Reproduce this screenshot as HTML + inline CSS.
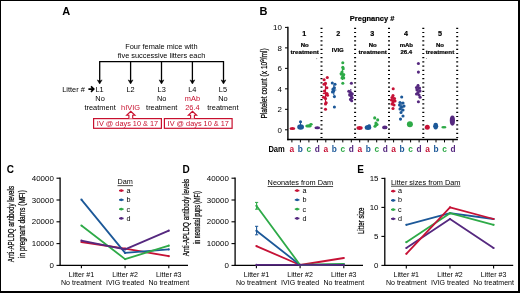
<!DOCTYPE html>
<html><head><meta charset="utf-8"><style>
html,body{margin:0;padding:0;background:#fff;}
body{width:520px;height:293px;overflow:hidden;position:relative;}
svg{position:absolute;left:0;top:0;font-family:"Liberation Sans",sans-serif;will-change:transform;}
.frame{position:absolute;left:0;top:0;width:517px;height:290px;border-style:solid;border-color:#000;border-width:1px 2px 2px 1px;}
</style></head><body>
<svg width="520" height="293" viewBox="0 0 520 293">
<text x="62.3" y="15.3" font-size="11" text-anchor="start" font-weight="bold" fill="#000" >A</text>
<text x="161.4" y="48.8" font-size="7.4" text-anchor="middle" font-weight="normal" fill="#000" >Four female mice with</text>
<text x="161.5" y="58.2" font-size="7.4" text-anchor="middle" font-weight="normal" fill="#000" >five successive litters each</text>
<line x1="99.1" y1="61.7" x2="224.1" y2="61.7" stroke="#000" stroke-width="1.3" />
<line x1="99.7" y1="61.7" x2="99.7" y2="81.5" stroke="#000" stroke-width="1.3" />
<path d="M97.30 79.9 L99.70 84.0 L102.10 79.9 L99.70 81.1 Z" fill="#000" stroke="#000" stroke-width="0.5" stroke-linejoin="round"/>
<line x1="130.6" y1="61.7" x2="130.6" y2="81.5" stroke="#000" stroke-width="1.3" />
<path d="M128.20 79.9 L130.60 84.0 L133.00 79.9 L130.60 81.1 Z" fill="#000" stroke="#000" stroke-width="0.5" stroke-linejoin="round"/>
<line x1="161.5" y1="61.7" x2="161.5" y2="81.5" stroke="#000" stroke-width="1.3" />
<path d="M159.10 79.9 L161.50 84.0 L163.90 79.9 L161.50 81.1 Z" fill="#000" stroke="#000" stroke-width="0.5" stroke-linejoin="round"/>
<line x1="192.4" y1="61.7" x2="192.4" y2="81.5" stroke="#000" stroke-width="1.3" />
<path d="M190.00 79.9 L192.40 84.0 L194.80 79.9 L192.40 81.1 Z" fill="#000" stroke="#000" stroke-width="0.5" stroke-linejoin="round"/>
<line x1="223.5" y1="61.7" x2="223.5" y2="81.5" stroke="#000" stroke-width="1.3" />
<path d="M221.10 79.9 L223.50 84.0 L225.90 79.9 L223.50 81.1 Z" fill="#000" stroke="#000" stroke-width="0.5" stroke-linejoin="round"/>
<text x="62.2" y="91.7" font-size="7.4" text-anchor="start" font-weight="normal" fill="#000" >Litter #</text>
<path d="M88.4 89.1 H93.2 M91.0 86.4 L93.8 89.1 L91.0 91.8" fill="none" stroke="#000" stroke-width="1.6"/>
<text x="99.6" y="92" font-size="7.4" text-anchor="middle" font-weight="normal" fill="#000" >L1</text>
<text x="130.6" y="92" font-size="7.4" text-anchor="middle" font-weight="normal" fill="#000" >L2</text>
<text x="161.7" y="92" font-size="7.4" text-anchor="middle" font-weight="normal" fill="#000" >L3</text>
<text x="192.3" y="92" font-size="7.4" text-anchor="middle" font-weight="normal" fill="#000" >L4</text>
<text x="222.9" y="92" font-size="7.4" text-anchor="middle" font-weight="normal" fill="#000" >L5</text>
<text x="100.1" y="101" font-size="7.4" text-anchor="middle" font-weight="normal" fill="#000" >No</text>
<text x="100.1" y="110.4" font-size="7.4" text-anchor="middle" font-weight="normal" fill="#000" >treatment</text>
<text x="161.7" y="101" font-size="7.4" text-anchor="middle" font-weight="normal" fill="#000" >No</text>
<text x="161.7" y="110.4" font-size="7.4" text-anchor="middle" font-weight="normal" fill="#000" >treatment</text>
<text x="222.9" y="101" font-size="7.4" text-anchor="middle" font-weight="normal" fill="#000" >No</text>
<text x="222.9" y="110.4" font-size="7.4" text-anchor="middle" font-weight="normal" fill="#000" >treatment</text>
<text x="130.5" y="110.4" font-size="7.4" text-anchor="middle" font-weight="normal" fill="#c8102e" >hIVIG</text>
<text x="192.4" y="100.8" font-size="7.4" text-anchor="middle" font-weight="normal" fill="#c8102e" >mAb</text>
<text x="192.4" y="110.4" font-size="7.4" text-anchor="middle" font-weight="normal" fill="#c8102e" >26.4</text>
<rect x="93.6" y="118.6" width="67.8" height="9.7" fill="none" stroke="#c8102e" stroke-width="1.2"/>
<text x="127.5" y="125.7" font-size="7.4" text-anchor="middle" font-weight="normal" fill="#c8102e" textLength="61.3" lengthAdjust="spacingAndGlyphs" >IV @ days 10 &amp; 17</text>
<path d="M128.9 118.6 V115.3 H126.60000000000001 L130.8 111.3 L135.0 115.3 H132.70000000000002 V118.6" fill="#fff" stroke="#c8102e" stroke-width="1.1"/>
<rect x="164.4" y="118.6" width="67.7" height="9.7" fill="none" stroke="#c8102e" stroke-width="1.2"/>
<text x="198.25" y="125.7" font-size="7.4" text-anchor="middle" font-weight="normal" fill="#c8102e" textLength="61.3" lengthAdjust="spacingAndGlyphs" >IV @ days 10 &amp; 17</text>
<path d="M190.6 118.6 V115.3 H188.3 L192.5 111.3 L196.7 115.3 H194.4 V118.6" fill="#fff" stroke="#c8102e" stroke-width="1.1"/>
<text x="259.5" y="14.9" font-size="11" text-anchor="start" font-weight="bold" fill="#000" >B</text>
<text x="349.8" y="20.6" font-size="7.7" text-anchor="start" font-weight="bold" fill="#000" textLength="44.6" lengthAdjust="spacingAndGlyphs" stroke="#000" stroke-width="0.2">Pregnancy #</text>
<line x1="287.9" y1="26.8" x2="287.9" y2="140.2" stroke="#000" stroke-width="1.4" />
<line x1="287.2" y1="139.5" x2="457.9" y2="139.5" stroke="#000" stroke-width="1.4" />
<line x1="285" y1="129.8" x2="287.9" y2="129.8" stroke="#000" stroke-width="1" />
<text transform="translate(281.9,132.5) scale(1.06,1)" font-size="7.5" text-anchor="end" font-weight="normal" fill="#000" >0</text>
<line x1="285" y1="109.32000000000001" x2="287.9" y2="109.32000000000001" stroke="#000" stroke-width="1" />
<text transform="translate(281.9,112.02000000000001) scale(1.06,1)" font-size="7.5" text-anchor="end" font-weight="normal" fill="#000" >2</text>
<line x1="285" y1="88.84" x2="287.9" y2="88.84" stroke="#000" stroke-width="1" />
<text transform="translate(281.9,91.54) scale(1.06,1)" font-size="7.5" text-anchor="end" font-weight="normal" fill="#000" >4</text>
<line x1="285" y1="68.36000000000001" x2="287.9" y2="68.36000000000001" stroke="#000" stroke-width="1" />
<text transform="translate(281.9,71.06000000000002) scale(1.06,1)" font-size="7.5" text-anchor="end" font-weight="normal" fill="#000" >6</text>
<line x1="285" y1="47.88000000000001" x2="287.9" y2="47.88000000000001" stroke="#000" stroke-width="1" />
<text transform="translate(281.9,50.58000000000001) scale(1.06,1)" font-size="7.5" text-anchor="end" font-weight="normal" fill="#000" >8</text>
<line x1="285" y1="27.400000000000006" x2="287.9" y2="27.400000000000006" stroke="#000" stroke-width="1" />
<text transform="translate(281.9,30.100000000000005) scale(1.06,1)" font-size="7.5" text-anchor="end" font-weight="normal" fill="#000" >10</text>
<text transform="translate(267.2,83.4) rotate(-90)" font-size="8.2" text-anchor="middle" font-weight="normal" textLength="70.3" lengthAdjust="spacingAndGlyphs" stroke="#000" stroke-width="0.22">Platelet count (x 10<tspan font-size="5.4" dy="-3.3">9</tspan><tspan dy="3.3">/ml)</tspan></text>
<line x1="321.5" y1="27.7" x2="321.5" y2="139" stroke="#000" stroke-width="2.0" stroke-dasharray="1.2 3.0"/>
<line x1="355.1" y1="27.7" x2="355.1" y2="139" stroke="#000" stroke-width="2.0" stroke-dasharray="1.2 3.0"/>
<line x1="389.0" y1="27.7" x2="389.0" y2="139" stroke="#000" stroke-width="2.0" stroke-dasharray="1.2 3.0"/>
<line x1="423.3" y1="27.7" x2="423.3" y2="139" stroke="#000" stroke-width="2.0" stroke-dasharray="1.2 3.0"/>
<line x1="457.2" y1="27.7" x2="457.2" y2="139" stroke="#000" stroke-width="2.0" stroke-dasharray="1.2 3.0"/>
<line x1="291.9" y1="139.5" x2="291.9" y2="142.4" stroke="#000" stroke-width="1" />
<text x="291.9" y="151.9" font-size="8.3" text-anchor="middle" font-weight="bold" fill="#c61236" >a</text>
<line x1="300.4" y1="139.5" x2="300.4" y2="142.4" stroke="#000" stroke-width="1" />
<text x="300.4" y="151.9" font-size="8.3" text-anchor="middle" font-weight="bold" fill="#1c5898" >b</text>
<line x1="308.9" y1="139.5" x2="308.9" y2="142.4" stroke="#000" stroke-width="1" />
<text x="308.9" y="151.9" font-size="8.3" text-anchor="middle" font-weight="bold" fill="#2eaa48" >c</text>
<line x1="317.4" y1="139.5" x2="317.4" y2="142.4" stroke="#000" stroke-width="1" />
<text x="317.4" y="151.9" font-size="8.3" text-anchor="middle" font-weight="bold" fill="#55287f" >d</text>
<line x1="325.79999999999995" y1="139.5" x2="325.79999999999995" y2="142.4" stroke="#000" stroke-width="1" />
<text x="325.79999999999995" y="151.9" font-size="8.3" text-anchor="middle" font-weight="bold" fill="#c61236" >a</text>
<line x1="334.29999999999995" y1="139.5" x2="334.29999999999995" y2="142.4" stroke="#000" stroke-width="1" />
<text x="334.29999999999995" y="151.9" font-size="8.3" text-anchor="middle" font-weight="bold" fill="#1c5898" >b</text>
<line x1="342.79999999999995" y1="139.5" x2="342.79999999999995" y2="142.4" stroke="#000" stroke-width="1" />
<text x="342.79999999999995" y="151.9" font-size="8.3" text-anchor="middle" font-weight="bold" fill="#2eaa48" >c</text>
<line x1="351.29999999999995" y1="139.5" x2="351.29999999999995" y2="142.4" stroke="#000" stroke-width="1" />
<text x="351.29999999999995" y="151.9" font-size="8.3" text-anchor="middle" font-weight="bold" fill="#55287f" >d</text>
<line x1="359.7" y1="139.5" x2="359.7" y2="142.4" stroke="#000" stroke-width="1" />
<text x="359.7" y="151.9" font-size="8.3" text-anchor="middle" font-weight="bold" fill="#c61236" >a</text>
<line x1="368.2" y1="139.5" x2="368.2" y2="142.4" stroke="#000" stroke-width="1" />
<text x="368.2" y="151.9" font-size="8.3" text-anchor="middle" font-weight="bold" fill="#1c5898" >b</text>
<line x1="376.7" y1="139.5" x2="376.7" y2="142.4" stroke="#000" stroke-width="1" />
<text x="376.7" y="151.9" font-size="8.3" text-anchor="middle" font-weight="bold" fill="#2eaa48" >c</text>
<line x1="385.2" y1="139.5" x2="385.2" y2="142.4" stroke="#000" stroke-width="1" />
<text x="385.2" y="151.9" font-size="8.3" text-anchor="middle" font-weight="bold" fill="#55287f" >d</text>
<line x1="393.59999999999997" y1="139.5" x2="393.59999999999997" y2="142.4" stroke="#000" stroke-width="1" />
<text x="393.59999999999997" y="151.9" font-size="8.3" text-anchor="middle" font-weight="bold" fill="#c61236" >a</text>
<line x1="402.09999999999997" y1="139.5" x2="402.09999999999997" y2="142.4" stroke="#000" stroke-width="1" />
<text x="402.09999999999997" y="151.9" font-size="8.3" text-anchor="middle" font-weight="bold" fill="#1c5898" >b</text>
<line x1="410.59999999999997" y1="139.5" x2="410.59999999999997" y2="142.4" stroke="#000" stroke-width="1" />
<text x="410.59999999999997" y="151.9" font-size="8.3" text-anchor="middle" font-weight="bold" fill="#2eaa48" >c</text>
<line x1="419.09999999999997" y1="139.5" x2="419.09999999999997" y2="142.4" stroke="#000" stroke-width="1" />
<text x="419.09999999999997" y="151.9" font-size="8.3" text-anchor="middle" font-weight="bold" fill="#55287f" >d</text>
<line x1="427.5" y1="139.5" x2="427.5" y2="142.4" stroke="#000" stroke-width="1" />
<text x="427.5" y="151.9" font-size="8.3" text-anchor="middle" font-weight="bold" fill="#c61236" >a</text>
<line x1="436.0" y1="139.5" x2="436.0" y2="142.4" stroke="#000" stroke-width="1" />
<text x="436.0" y="151.9" font-size="8.3" text-anchor="middle" font-weight="bold" fill="#1c5898" >b</text>
<line x1="444.5" y1="139.5" x2="444.5" y2="142.4" stroke="#000" stroke-width="1" />
<text x="444.5" y="151.9" font-size="8.3" text-anchor="middle" font-weight="bold" fill="#2eaa48" >c</text>
<line x1="453.0" y1="139.5" x2="453.0" y2="142.4" stroke="#000" stroke-width="1" />
<text x="453.0" y="151.9" font-size="8.3" text-anchor="middle" font-weight="bold" fill="#55287f" >d</text>
<text x="268.4" y="151.9" font-size="8.2" text-anchor="start" font-weight="bold" fill="#000" textLength="16.4" lengthAdjust="spacingAndGlyphs" >Dam</text>
<text x="304.3" y="35.8" font-size="7.2" text-anchor="middle" font-weight="bold" fill="#000" stroke="#000" stroke-width="0.2">1</text>
<text x="338.2" y="35.8" font-size="7.2" text-anchor="middle" font-weight="bold" fill="#000" stroke="#000" stroke-width="0.2">2</text>
<text x="372.2" y="35.8" font-size="7.2" text-anchor="middle" font-weight="bold" fill="#000" stroke="#000" stroke-width="0.2">3</text>
<text x="406.1" y="35.8" font-size="7.2" text-anchor="middle" font-weight="bold" fill="#000" stroke="#000" stroke-width="0.2">4</text>
<text x="440.0" y="35.8" font-size="7.2" text-anchor="middle" font-weight="bold" fill="#000" stroke="#000" stroke-width="0.2">5</text>
<text x="304.7" y="46.6" font-size="6.0" text-anchor="middle" font-weight="bold" fill="#000" stroke="#000" stroke-width="0.2">No</text>
<text x="304.7" y="54.0" font-size="6.0" text-anchor="middle" font-weight="bold" fill="#000" textLength="28.5" lengthAdjust="spacingAndGlyphs" stroke="#000" stroke-width="0.2">treatment</text>
<text x="372.7" y="46.6" font-size="6.0" text-anchor="middle" font-weight="bold" fill="#000" stroke="#000" stroke-width="0.2">No</text>
<text x="372.7" y="54.0" font-size="6.0" text-anchor="middle" font-weight="bold" fill="#000" textLength="28.5" lengthAdjust="spacingAndGlyphs" stroke="#000" stroke-width="0.2">treatment</text>
<text x="440.0" y="46.6" font-size="6.0" text-anchor="middle" font-weight="bold" fill="#000" stroke="#000" stroke-width="0.2">No</text>
<text x="440.0" y="54.0" font-size="6.0" text-anchor="middle" font-weight="bold" fill="#000" textLength="28.5" lengthAdjust="spacingAndGlyphs" stroke="#000" stroke-width="0.2">treatment</text>
<text x="337.8" y="51.5" font-size="6.0" text-anchor="middle" font-weight="bold" fill="#000" stroke="#000" stroke-width="0.2">IVIG</text>
<text x="406.3" y="46.6" font-size="6.0" text-anchor="middle" font-weight="bold" fill="#000" stroke="#000" stroke-width="0.2">mAb</text>
<text x="406.3" y="54.0" font-size="6.0" text-anchor="middle" font-weight="bold" fill="#000" stroke="#000" stroke-width="0.2">26.4</text>
<circle cx="316.70" cy="58.60" r="0.55" fill="#888"/>
<circle cx="426.40" cy="58.50" r="0.55" fill="#888"/>
<circle cx="300.50" cy="121.80" r="1.55" fill="#1c5898"/>
<ellipse cx="292.4" cy="128.4" rx="2.9" ry="1.5" fill="#c61236"/>
<ellipse cx="300.6" cy="127.0" rx="3.4" ry="2.8000000000000003" fill="#1c5898"/>
<line x1="300.5" y1="122.5" x2="300.5" y2="129" stroke="#1c5898" stroke-width="1" />
<ellipse cx="308.5" cy="125.9" rx="3.2" ry="1.7000000000000002" fill="#2eaa48"/>
<ellipse cx="311.0" cy="124.2" rx="1.7000000000000002" ry="1.2999999999999998" fill="#2eaa48"/>
<ellipse cx="317.3" cy="127.7" rx="2.9" ry="1.5" fill="#55287f"/>
<circle cx="327.30" cy="77.50" r="1.55" fill="#c61236"/>
<circle cx="324.10" cy="79.80" r="1.55" fill="#c61236"/>
<circle cx="325.50" cy="83.40" r="1.55" fill="#c61236"/>
<circle cx="324.10" cy="84.30" r="1.55" fill="#c61236"/>
<circle cx="326.90" cy="87.70" r="1.55" fill="#c61236"/>
<circle cx="324.50" cy="91.10" r="1.55" fill="#c61236"/>
<circle cx="326.90" cy="93.50" r="1.55" fill="#c61236"/>
<circle cx="327.50" cy="95.20" r="1.55" fill="#c61236"/>
<circle cx="323.50" cy="97.30" r="1.55" fill="#c61236"/>
<circle cx="325.50" cy="98.60" r="1.55" fill="#c61236"/>
<circle cx="326.20" cy="102.70" r="1.55" fill="#c61236"/>
<circle cx="325.50" cy="103.90" r="1.55" fill="#c61236"/>
<circle cx="325.50" cy="109.30" r="1.55" fill="#c61236"/>
<line x1="325.5" y1="82.3" x2="325.5" y2="104" stroke="#c61236" stroke-width="1.2" />
<line x1="322.8" y1="93.5" x2="328.3" y2="93.5" stroke="#c61236" stroke-width="1.2" />
<circle cx="332.30" cy="83.00" r="1.55" fill="#1c5898"/>
<circle cx="335.00" cy="84.30" r="1.55" fill="#1c5898"/>
<circle cx="333.00" cy="89.10" r="1.55" fill="#1c5898"/>
<circle cx="334.40" cy="87.70" r="1.55" fill="#1c5898"/>
<circle cx="333.70" cy="91.10" r="1.55" fill="#1c5898"/>
<circle cx="332.50" cy="92.00" r="1.55" fill="#1c5898"/>
<circle cx="334.40" cy="96.60" r="1.55" fill="#1c5898"/>
<circle cx="334.40" cy="107.00" r="1.55" fill="#1c5898"/>
<line x1="333.8" y1="85" x2="333.8" y2="95" stroke="#1c5898" stroke-width="1.1" />
<line x1="331.5" y1="90" x2="336.3" y2="90" stroke="#1c5898" stroke-width="1.1" />
<circle cx="342.80" cy="62.70" r="1.55" fill="#2eaa48"/>
<circle cx="342.80" cy="67.30" r="1.55" fill="#2eaa48"/>
<circle cx="343.20" cy="68.70" r="1.55" fill="#2eaa48"/>
<circle cx="342.00" cy="72.00" r="1.55" fill="#2eaa48"/>
<circle cx="341.10" cy="73.80" r="1.55" fill="#2eaa48"/>
<circle cx="343.70" cy="74.60" r="1.55" fill="#2eaa48"/>
<circle cx="342.80" cy="76.30" r="1.55" fill="#2eaa48"/>
<circle cx="342.00" cy="78.00" r="1.55" fill="#2eaa48"/>
<circle cx="343.70" cy="78.00" r="1.55" fill="#2eaa48"/>
<circle cx="342.80" cy="83.20" r="1.55" fill="#2eaa48"/>
<line x1="342.5" y1="69" x2="342.5" y2="80" stroke="#2eaa48" stroke-width="1.1" />
<line x1="340.3" y1="75" x2="345" y2="75" stroke="#2eaa48" stroke-width="1.1" />
<circle cx="351.40" cy="83.20" r="1.55" fill="#55287f"/>
<circle cx="348.80" cy="91.20" r="1.55" fill="#55287f"/>
<circle cx="350.50" cy="92.50" r="1.55" fill="#55287f"/>
<circle cx="352.20" cy="93.90" r="1.55" fill="#55287f"/>
<circle cx="349.70" cy="95.10" r="1.55" fill="#55287f"/>
<circle cx="351.40" cy="96.00" r="1.55" fill="#55287f"/>
<circle cx="352.20" cy="97.70" r="1.55" fill="#55287f"/>
<circle cx="350.50" cy="99.40" r="1.55" fill="#55287f"/>
<circle cx="351.70" cy="100.70" r="1.55" fill="#55287f"/>
<line x1="350.8" y1="89" x2="350.8" y2="99" stroke="#55287f" stroke-width="1.1" />
<line x1="348.3" y1="94" x2="353.3" y2="94" stroke="#55287f" stroke-width="1.1" />
<ellipse cx="359.6" cy="128.0" rx="3.1" ry="1.9" fill="#c61236"/>
<ellipse cx="368.0" cy="127.6" rx="3.3000000000000003" ry="2.5" fill="#1c5898"/>
<ellipse cx="369.2" cy="125.6" rx="1.6" ry="1.4" fill="#1c5898"/>
<circle cx="374.70" cy="117.90" r="1.55" fill="#2eaa48"/>
<circle cx="377.70" cy="119.90" r="1.55" fill="#2eaa48"/>
<circle cx="375.90" cy="123.00" r="1.55" fill="#2eaa48"/>
<circle cx="375.90" cy="125.00" r="1.55" fill="#2eaa48"/>
<circle cx="375.00" cy="126.30" r="1.55" fill="#2eaa48"/>
<circle cx="377.00" cy="124.50" r="1.55" fill="#2eaa48"/>
<ellipse cx="384.8" cy="127.4" rx="2.7" ry="1.9" fill="#55287f"/>
<circle cx="393.20" cy="88.80" r="1.55" fill="#c61236"/>
<circle cx="393.00" cy="95.50" r="1.55" fill="#c61236"/>
<circle cx="392.00" cy="97.50" r="1.55" fill="#c61236"/>
<circle cx="394.50" cy="98.50" r="1.55" fill="#c61236"/>
<circle cx="391.50" cy="100.00" r="1.55" fill="#c61236"/>
<circle cx="395.00" cy="101.00" r="1.55" fill="#c61236"/>
<circle cx="393.00" cy="102.00" r="1.55" fill="#c61236"/>
<circle cx="392.00" cy="104.00" r="1.55" fill="#c61236"/>
<circle cx="394.00" cy="105.00" r="1.55" fill="#c61236"/>
<circle cx="393.00" cy="108.50" r="1.55" fill="#c61236"/>
<line x1="393.2" y1="95" x2="393.2" y2="106" stroke="#c61236" stroke-width="1.1" />
<line x1="390.8" y1="100.4" x2="395.8" y2="100.4" stroke="#c61236" stroke-width="1.1" />
<circle cx="401.70" cy="97.00" r="1.55" fill="#1c5898"/>
<circle cx="400.00" cy="102.50" r="1.55" fill="#1c5898"/>
<circle cx="403.00" cy="103.00" r="1.55" fill="#1c5898"/>
<circle cx="399.50" cy="105.00" r="1.55" fill="#1c5898"/>
<circle cx="404.00" cy="106.00" r="1.55" fill="#1c5898"/>
<circle cx="401.50" cy="107.00" r="1.55" fill="#1c5898"/>
<circle cx="400.00" cy="109.00" r="1.55" fill="#1c5898"/>
<circle cx="403.00" cy="110.00" r="1.55" fill="#1c5898"/>
<circle cx="401.00" cy="112.50" r="1.55" fill="#1c5898"/>
<circle cx="403.00" cy="116.00" r="1.55" fill="#1c5898"/>
<circle cx="400.50" cy="119.10" r="1.55" fill="#1c5898"/>
<line x1="401.8" y1="102" x2="401.8" y2="112" stroke="#1c5898" stroke-width="1.1" />
<line x1="399.3" y1="107" x2="404.3" y2="107" stroke="#1c5898" stroke-width="1.1" />
<ellipse cx="409.9" cy="124.2" rx="3.0" ry="3.0" fill="#2eaa48"/>
<circle cx="418.40" cy="63.50" r="1.55" fill="#55287f"/>
<circle cx="418.40" cy="72.10" r="1.55" fill="#55287f"/>
<circle cx="418.00" cy="85.50" r="1.55" fill="#55287f"/>
<circle cx="416.50" cy="87.50" r="1.55" fill="#55287f"/>
<circle cx="419.50" cy="88.00" r="1.55" fill="#55287f"/>
<circle cx="417.00" cy="90.00" r="1.55" fill="#55287f"/>
<circle cx="420.00" cy="91.00" r="1.55" fill="#55287f"/>
<circle cx="418.00" cy="92.50" r="1.55" fill="#55287f"/>
<circle cx="416.50" cy="94.00" r="1.55" fill="#55287f"/>
<circle cx="419.00" cy="95.00" r="1.55" fill="#55287f"/>
<circle cx="420.10" cy="97.30" r="1.55" fill="#55287f"/>
<circle cx="418.40" cy="101.70" r="1.55" fill="#55287f"/>
<line x1="418.2" y1="84" x2="418.2" y2="95" stroke="#55287f" stroke-width="1.1" />
<line x1="415.6" y1="89" x2="420.8" y2="89" stroke="#55287f" stroke-width="1.1" />
<ellipse cx="427.3" cy="127.3" rx="2.5" ry="2.5" fill="#c61236"/>
<ellipse cx="435.7" cy="126.1" rx="2.4" ry="3.4" fill="#1c5898"/>
<ellipse cx="435.7" cy="126.3" rx="2.8000000000000003" ry="1.1" fill="#1c5898"/>
<ellipse cx="443.9" cy="127.3" rx="2.6" ry="1.2000000000000002" fill="#2eaa48"/>
<ellipse cx="452.4" cy="120.6" rx="2.6" ry="5.1" fill="#55287f"/>
<line x1="60.1" y1="177.6" x2="60.1" y2="266.0" stroke="#000" stroke-width="1.3" />
<line x1="59.5" y1="265.4" x2="188.0" y2="265.4" stroke="#000" stroke-width="1.3" />
<line x1="56.5" y1="265.4" x2="60.1" y2="265.4" stroke="#000" stroke-width="1.1" />
<text transform="translate(53.800000000000004,267.9) scale(1.15,1)" font-size="6.9" text-anchor="end" font-weight="normal" fill="#000" >0</text>
<line x1="56.5" y1="243.59999999999997" x2="60.1" y2="243.59999999999997" stroke="#000" stroke-width="1.1" />
<text transform="translate(53.800000000000004,246.09999999999997) scale(1.15,1)" font-size="6.9" text-anchor="end" font-weight="normal" fill="#000" >10000</text>
<line x1="56.5" y1="221.79999999999998" x2="60.1" y2="221.79999999999998" stroke="#000" stroke-width="1.1" />
<text transform="translate(53.800000000000004,224.29999999999998) scale(1.15,1)" font-size="6.9" text-anchor="end" font-weight="normal" fill="#000" >20000</text>
<line x1="56.5" y1="199.99999999999997" x2="60.1" y2="199.99999999999997" stroke="#000" stroke-width="1.1" />
<text transform="translate(53.800000000000004,202.49999999999997) scale(1.15,1)" font-size="6.9" text-anchor="end" font-weight="normal" fill="#000" >30000</text>
<line x1="56.5" y1="178.2" x2="60.1" y2="178.2" stroke="#000" stroke-width="1.1" />
<text transform="translate(53.800000000000004,180.7) scale(1.15,1)" font-size="6.9" text-anchor="end" font-weight="normal" fill="#000" >40000</text>
<line x1="81.4" y1="265.4" x2="81.4" y2="268.3" stroke="#000" stroke-width="1.1" />
<text transform="translate(81.4,277.0) scale(0.955,1)" font-size="7.4" text-anchor="middle" font-weight="normal" fill="#000" >Litter #1</text>
<text transform="translate(81.4,285.2) scale(0.955,1)" font-size="7.4" text-anchor="middle" font-weight="normal" fill="#000" >No treatment</text>
<line x1="125.1" y1="265.4" x2="125.1" y2="268.3" stroke="#000" stroke-width="1.1" />
<text transform="translate(125.1,277.0) scale(0.955,1)" font-size="7.4" text-anchor="middle" font-weight="normal" fill="#000" >Litter #2</text>
<text transform="translate(125.1,285.2) scale(0.955,1)" font-size="7.4" text-anchor="middle" font-weight="normal" fill="#000" >IVIG treated</text>
<line x1="168.8" y1="265.4" x2="168.8" y2="268.3" stroke="#000" stroke-width="1.1" />
<text transform="translate(168.8,277.0) scale(0.955,1)" font-size="7.4" text-anchor="middle" font-weight="normal" fill="#000" >Litter #3</text>
<text transform="translate(168.8,285.2) scale(0.955,1)" font-size="7.4" text-anchor="middle" font-weight="normal" fill="#000" >No treatment</text>
<text transform="translate(13.6,224.1) rotate(-90)" font-size="8.5" text-anchor="middle" font-weight="normal" textLength="76.2" lengthAdjust="spacingAndGlyphs" stroke="#000" stroke-width="0.22">Anti-APLDQ antibody levels</text>
<text transform="translate(25.3,224.1) rotate(-90)" font-size="8.5" text-anchor="middle" font-weight="normal" textLength="67.8" lengthAdjust="spacingAndGlyphs" stroke="#000" stroke-width="0.22">in pregnant dams (MFI)</text>
<polyline points="81.4,242.0 125.1,248.6 168.8,256.2" fill="none" stroke="#c61236" stroke-width="1.8" stroke-linejoin="round"/>
<circle cx="81.40" cy="242.00" r="1.1" fill="#c61236"/>
<circle cx="125.10" cy="248.60" r="1.1" fill="#c61236"/>
<circle cx="168.80" cy="256.20" r="1.1" fill="#c61236"/>
<polyline points="81.4,199.6 125.1,252.9 168.8,249.4" fill="none" stroke="#1c5898" stroke-width="1.8" stroke-linejoin="round"/>
<circle cx="81.40" cy="199.60" r="1.1" fill="#1c5898"/>
<circle cx="125.10" cy="252.90" r="1.1" fill="#1c5898"/>
<circle cx="168.80" cy="249.40" r="1.1" fill="#1c5898"/>
<polyline points="81.4,225.5 125.1,259.1 168.8,245.7" fill="none" stroke="#2eaa48" stroke-width="1.8" stroke-linejoin="round"/>
<circle cx="81.40" cy="225.50" r="1.1" fill="#2eaa48"/>
<circle cx="125.10" cy="259.10" r="1.1" fill="#2eaa48"/>
<circle cx="168.80" cy="245.70" r="1.1" fill="#2eaa48"/>
<polyline points="81.4,240.6 125.1,249.3 168.8,230.7" fill="none" stroke="#55287f" stroke-width="1.8" stroke-linejoin="round"/>
<circle cx="81.40" cy="240.60" r="1.1" fill="#55287f"/>
<circle cx="125.10" cy="249.30" r="1.1" fill="#55287f"/>
<circle cx="168.80" cy="230.70" r="1.1" fill="#55287f"/>
<text x="117.5" y="184.4" font-size="7.2" text-anchor="start" font-weight="normal" fill="#000" textLength="15.4" lengthAdjust="spacingAndGlyphs" text-decoration="underline">Dam</text>
<line x1="119" y1="190.6" x2="123.6" y2="190.6" stroke="#c61236" stroke-width="1.5" />
<circle cx="121.30" cy="190.60" r="1.4" fill="#c61236"/>
<text x="126.6" y="193.1" font-size="7.2" text-anchor="start" font-weight="normal" fill="#000" >a</text>
<line x1="119" y1="199.87" x2="123.6" y2="199.87" stroke="#1c5898" stroke-width="1.5" />
<circle cx="121.30" cy="199.87" r="1.4" fill="#1c5898"/>
<text x="126.6" y="202.37" font-size="7.2" text-anchor="start" font-weight="normal" fill="#000" >b</text>
<line x1="119" y1="209.14" x2="123.6" y2="209.14" stroke="#2eaa48" stroke-width="1.5" />
<circle cx="121.30" cy="209.14" r="1.4" fill="#2eaa48"/>
<text x="126.6" y="211.64" font-size="7.2" text-anchor="start" font-weight="normal" fill="#000" >c</text>
<line x1="119" y1="218.41" x2="123.6" y2="218.41" stroke="#55287f" stroke-width="1.5" />
<circle cx="121.30" cy="218.41" r="1.4" fill="#55287f"/>
<text x="126.6" y="220.91" font-size="7.2" text-anchor="start" font-weight="normal" fill="#000" >d</text>
<line x1="235.1" y1="177.6" x2="235.1" y2="266.0" stroke="#000" stroke-width="1.3" />
<line x1="234.5" y1="265.4" x2="363.0" y2="265.4" stroke="#000" stroke-width="1.3" />
<line x1="231.5" y1="265.4" x2="235.1" y2="265.4" stroke="#000" stroke-width="1.1" />
<text transform="translate(228.79999999999998,267.9) scale(1.15,1)" font-size="6.9" text-anchor="end" font-weight="normal" fill="#000" >0</text>
<line x1="231.5" y1="243.59999999999997" x2="235.1" y2="243.59999999999997" stroke="#000" stroke-width="1.1" />
<text transform="translate(228.79999999999998,246.09999999999997) scale(1.15,1)" font-size="6.9" text-anchor="end" font-weight="normal" fill="#000" >10000</text>
<line x1="231.5" y1="221.79999999999998" x2="235.1" y2="221.79999999999998" stroke="#000" stroke-width="1.1" />
<text transform="translate(228.79999999999998,224.29999999999998) scale(1.15,1)" font-size="6.9" text-anchor="end" font-weight="normal" fill="#000" >20000</text>
<line x1="231.5" y1="199.99999999999997" x2="235.1" y2="199.99999999999997" stroke="#000" stroke-width="1.1" />
<text transform="translate(228.79999999999998,202.49999999999997) scale(1.15,1)" font-size="6.9" text-anchor="end" font-weight="normal" fill="#000" >30000</text>
<line x1="231.5" y1="178.2" x2="235.1" y2="178.2" stroke="#000" stroke-width="1.1" />
<text transform="translate(228.79999999999998,180.7) scale(1.15,1)" font-size="6.9" text-anchor="end" font-weight="normal" fill="#000" >40000</text>
<line x1="256.4" y1="265.4" x2="256.4" y2="268.3" stroke="#000" stroke-width="1.1" />
<text transform="translate(256.4,277.0) scale(0.955,1)" font-size="7.4" text-anchor="middle" font-weight="normal" fill="#000" >Litter #1</text>
<text transform="translate(256.4,285.2) scale(0.955,1)" font-size="7.4" text-anchor="middle" font-weight="normal" fill="#000" >No treatment</text>
<line x1="300.1" y1="265.4" x2="300.1" y2="268.3" stroke="#000" stroke-width="1.1" />
<text transform="translate(300.1,277.0) scale(0.955,1)" font-size="7.4" text-anchor="middle" font-weight="normal" fill="#000" >Litter #2</text>
<text transform="translate(300.1,285.2) scale(0.955,1)" font-size="7.4" text-anchor="middle" font-weight="normal" fill="#000" >IVIG treated</text>
<line x1="343.8" y1="265.4" x2="343.8" y2="268.3" stroke="#000" stroke-width="1.1" />
<text transform="translate(343.8,277.0) scale(0.955,1)" font-size="7.4" text-anchor="middle" font-weight="normal" fill="#000" >Litter #3</text>
<text transform="translate(343.8,285.2) scale(0.955,1)" font-size="7.4" text-anchor="middle" font-weight="normal" fill="#000" >No treatment</text>
<text transform="translate(188.6,217.5) rotate(-90)" font-size="8.5" text-anchor="middle" font-weight="normal" textLength="77.3" lengthAdjust="spacingAndGlyphs" stroke="#000" stroke-width="0.22">Anti-APLDQ antibody levels</text>
<text transform="translate(200.3,217.5) rotate(-90)" font-size="8.5" text-anchor="middle" font-weight="normal" textLength="52.6" lengthAdjust="spacingAndGlyphs" stroke="#000" stroke-width="0.22">in neonatal pups (MFI)</text>
<polyline points="256.4,246.1 300.1,265.0 343.8,258" fill="none" stroke="#c61236" stroke-width="1.8" stroke-linejoin="round"/>
<circle cx="256.40" cy="246.10" r="1.1" fill="#c61236"/>
<circle cx="300.10" cy="265.00" r="1.1" fill="#c61236"/>
<circle cx="343.80" cy="258.00" r="1.1" fill="#c61236"/>
<polyline points="256.4,230.8 300.1,265.0 343.8,264.4" fill="none" stroke="#1c5898" stroke-width="1.8" stroke-linejoin="round"/>
<circle cx="256.40" cy="230.80" r="1.1" fill="#1c5898"/>
<circle cx="300.10" cy="265.00" r="1.1" fill="#1c5898"/>
<circle cx="343.80" cy="264.40" r="1.1" fill="#1c5898"/>
<polyline points="256.4,205.8 300.1,265.0 343.8,264.0" fill="none" stroke="#2eaa48" stroke-width="1.8" stroke-linejoin="round"/>
<circle cx="256.40" cy="205.80" r="1.1" fill="#2eaa48"/>
<circle cx="300.10" cy="265.00" r="1.1" fill="#2eaa48"/>
<circle cx="343.80" cy="264.00" r="1.1" fill="#2eaa48"/>
<polyline points="256.4,264.9 300.1,264.9 343.8,264.9" fill="none" stroke="#55287f" stroke-width="1.8" stroke-linejoin="round"/>
<circle cx="256.40" cy="264.90" r="1.1" fill="#55287f"/>
<circle cx="300.10" cy="264.90" r="1.1" fill="#55287f"/>
<circle cx="343.80" cy="264.90" r="1.1" fill="#55287f"/>
<text x="267.6" y="185.3" font-size="7.2" text-anchor="start" font-weight="normal" fill="#000" textLength="65.5" lengthAdjust="spacingAndGlyphs" text-decoration="underline">Neonates from Dam</text>
<line x1="294.8" y1="190.6" x2="299.40000000000003" y2="190.6" stroke="#c61236" stroke-width="1.5" />
<circle cx="297.10" cy="190.60" r="1.4" fill="#c61236"/>
<text x="302.40000000000003" y="193.1" font-size="7.2" text-anchor="start" font-weight="normal" fill="#000" >a</text>
<line x1="294.8" y1="199.87" x2="299.40000000000003" y2="199.87" stroke="#1c5898" stroke-width="1.5" />
<circle cx="297.10" cy="199.87" r="1.4" fill="#1c5898"/>
<text x="302.40000000000003" y="202.37" font-size="7.2" text-anchor="start" font-weight="normal" fill="#000" >b</text>
<line x1="294.8" y1="209.14" x2="299.40000000000003" y2="209.14" stroke="#2eaa48" stroke-width="1.5" />
<circle cx="297.10" cy="209.14" r="1.4" fill="#2eaa48"/>
<text x="302.40000000000003" y="211.64" font-size="7.2" text-anchor="start" font-weight="normal" fill="#000" >c</text>
<line x1="294.8" y1="218.41" x2="299.40000000000003" y2="218.41" stroke="#55287f" stroke-width="1.5" />
<circle cx="297.10" cy="218.41" r="1.4" fill="#55287f"/>
<text x="302.40000000000003" y="220.91" font-size="7.2" text-anchor="start" font-weight="normal" fill="#000" >d</text>
<line x1="256.6" y1="202.4" x2="256.6" y2="209.2" stroke="#2eaa48" stroke-width="1.1" />
<line x1="255.00000000000003" y1="202.4" x2="258.20000000000005" y2="202.4" stroke="#2eaa48" stroke-width="1" />
<line x1="255.00000000000003" y1="209.2" x2="258.20000000000005" y2="209.2" stroke="#2eaa48" stroke-width="1" />
<line x1="256.6" y1="226.3" x2="256.6" y2="234.8" stroke="#1c5898" stroke-width="1.1" />
<line x1="255.00000000000003" y1="226.3" x2="258.20000000000005" y2="226.3" stroke="#1c5898" stroke-width="1" />
<line x1="255.00000000000003" y1="234.8" x2="258.20000000000005" y2="234.8" stroke="#1c5898" stroke-width="1" />
<text x="6.8" y="172.6" font-size="10" text-anchor="start" font-weight="bold" fill="#000" >C</text>
<text x="182.5" y="172.6" font-size="10" text-anchor="start" font-weight="bold" fill="#000" >D</text>
<text x="357.2" y="172.8" font-size="10" text-anchor="start" font-weight="bold" fill="#000" >E</text>
<line x1="384.8" y1="177.8" x2="384.8" y2="266.0" stroke="#000" stroke-width="1.3" />
<line x1="384.2" y1="265.4" x2="513.2" y2="265.4" stroke="#000" stroke-width="1.3" />
<line x1="381.40000000000003" y1="265.4" x2="384.8" y2="265.4" stroke="#000" stroke-width="1.1" />
<text transform="translate(378.5,267.9) scale(1.15,1)" font-size="6.9" text-anchor="end" font-weight="normal" fill="#000" >0</text>
<line x1="381.40000000000003" y1="236.39999999999998" x2="384.8" y2="236.39999999999998" stroke="#000" stroke-width="1.1" />
<text transform="translate(378.5,238.89999999999998) scale(1.15,1)" font-size="6.9" text-anchor="end" font-weight="normal" fill="#000" >5</text>
<line x1="381.40000000000003" y1="207.39999999999998" x2="384.8" y2="207.39999999999998" stroke="#000" stroke-width="1.1" />
<text transform="translate(378.5,209.89999999999998) scale(1.15,1)" font-size="6.9" text-anchor="end" font-weight="normal" fill="#000" >10</text>
<line x1="381.40000000000003" y1="178.39999999999998" x2="384.8" y2="178.39999999999998" stroke="#000" stroke-width="1.1" />
<text transform="translate(378.5,180.89999999999998) scale(1.15,1)" font-size="6.9" text-anchor="end" font-weight="normal" fill="#000" >15</text>
<text transform="translate(364.4,220.8) rotate(-90)" font-size="8.2" text-anchor="middle" font-weight="normal" textLength="26.6" lengthAdjust="spacingAndGlyphs" stroke="#000" stroke-width="0.22">Litter size</text>
<line x1="406.3" y1="265.4" x2="406.3" y2="268.5" stroke="#000" stroke-width="1.1" />
<text transform="translate(406.3,277.0) scale(0.955,1)" font-size="7.4" text-anchor="middle" font-weight="normal" fill="#000" >Litter #1</text>
<text transform="translate(406.3,285.2) scale(0.955,1)" font-size="7.4" text-anchor="middle" font-weight="normal" fill="#000" >No treatment</text>
<line x1="450.0" y1="265.4" x2="450.0" y2="268.5" stroke="#000" stroke-width="1.1" />
<text transform="translate(450.0,277.0) scale(0.955,1)" font-size="7.4" text-anchor="middle" font-weight="normal" fill="#000" >Litter #2</text>
<text transform="translate(450.0,285.2) scale(0.955,1)" font-size="7.4" text-anchor="middle" font-weight="normal" fill="#000" >IVIG treated</text>
<line x1="493.6" y1="265.4" x2="493.6" y2="268.5" stroke="#000" stroke-width="1.1" />
<text transform="translate(493.6,277.0) scale(0.955,1)" font-size="7.4" text-anchor="middle" font-weight="normal" fill="#000" >Litter #3</text>
<text transform="translate(493.6,285.2) scale(0.955,1)" font-size="7.4" text-anchor="middle" font-weight="normal" fill="#000" >No treatment</text>
<polyline points="406.3,224.80 450.0,213.20 493.6,219.00" fill="none" stroke="#1c5898" stroke-width="1.8" stroke-linejoin="round"/>
<circle cx="406.30" cy="224.80" r="1.1" fill="#1c5898"/>
<circle cx="450.00" cy="213.20" r="1.1" fill="#1c5898"/>
<circle cx="493.60" cy="219.00" r="1.1" fill="#1c5898"/>
<polyline points="406.3,242.20 450.0,213.20 493.6,224.80" fill="none" stroke="#2eaa48" stroke-width="1.8" stroke-linejoin="round"/>
<circle cx="406.30" cy="242.20" r="1.1" fill="#2eaa48"/>
<circle cx="450.00" cy="213.20" r="1.1" fill="#2eaa48"/>
<circle cx="493.60" cy="224.80" r="1.1" fill="#2eaa48"/>
<polyline points="406.3,248.00 450.0,219.00 493.6,248.00" fill="none" stroke="#55287f" stroke-width="1.8" stroke-linejoin="round"/>
<circle cx="406.30" cy="248.00" r="1.1" fill="#55287f"/>
<circle cx="450.00" cy="219.00" r="1.1" fill="#55287f"/>
<circle cx="493.60" cy="248.00" r="1.1" fill="#55287f"/>
<polyline points="406.3,253.80 450.0,207.40 493.6,219.00" fill="none" stroke="#c61236" stroke-width="1.8" stroke-linejoin="round"/>
<circle cx="406.30" cy="253.80" r="1.1" fill="#c61236"/>
<circle cx="450.00" cy="207.40" r="1.1" fill="#c61236"/>
<circle cx="493.60" cy="219.00" r="1.1" fill="#c61236"/>
<text x="391" y="184.8" font-size="7.2" text-anchor="start" font-weight="normal" fill="#000" textLength="69.4" lengthAdjust="spacingAndGlyphs" text-decoration="underline">Litter sizes from Dam</text>
<line x1="391" y1="191.2" x2="395.4" y2="191.2" stroke="#c61236" stroke-width="1.5" />
<circle cx="393.20" cy="191.20" r="1.4" fill="#c61236"/>
<text x="398" y="193.1" font-size="7.2" text-anchor="start" font-weight="normal" fill="#000" >a</text>
<line x1="391" y1="200.39999999999998" x2="395.4" y2="200.39999999999998" stroke="#1c5898" stroke-width="1.5" />
<circle cx="393.20" cy="200.40" r="1.4" fill="#1c5898"/>
<text x="398" y="202.29999999999998" font-size="7.2" text-anchor="start" font-weight="normal" fill="#000" >b</text>
<line x1="391" y1="209.6" x2="395.4" y2="209.6" stroke="#2eaa48" stroke-width="1.5" />
<circle cx="393.20" cy="209.60" r="1.4" fill="#2eaa48"/>
<text x="398" y="211.5" font-size="7.2" text-anchor="start" font-weight="normal" fill="#000" >c</text>
<line x1="391" y1="218.79999999999998" x2="395.4" y2="218.79999999999998" stroke="#55287f" stroke-width="1.5" />
<circle cx="393.20" cy="218.80" r="1.4" fill="#55287f"/>
<text x="398" y="220.7" font-size="7.2" text-anchor="start" font-weight="normal" fill="#000" >d</text>
</svg>
<div class="frame"></div>
</body></html>
